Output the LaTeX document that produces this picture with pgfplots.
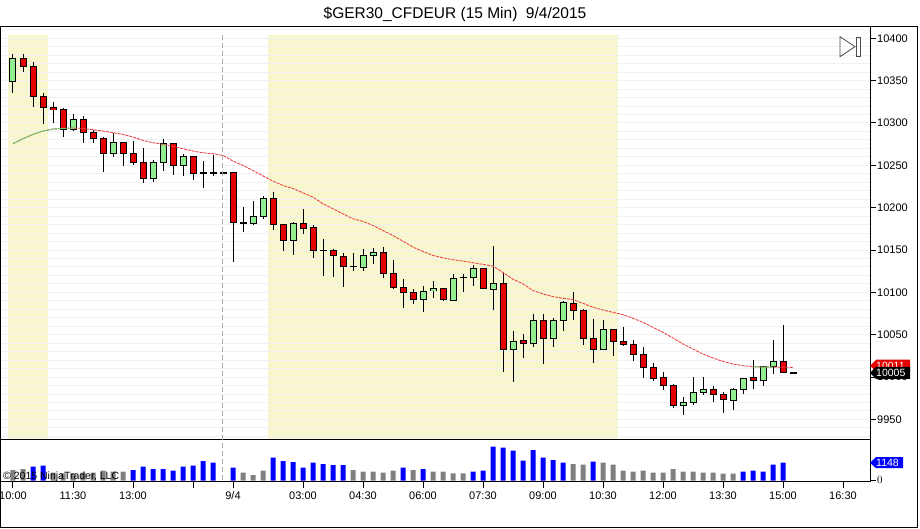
\documentclass[border=0pt]{standalone}
\usepackage{fontspec}
\setmainfont{Liberation Sans}
\usepackage{pgfplots}
\pgfplotsset{compat=1.18}
\usepackage{pgfplotstable}

\definecolor{shadeY}{RGB}{248,246,204}
\definecolor{upG}{RGB}{144,238,144}
\definecolor{dnR}{RGB}{228,0,0}
\definecolor{gridC}{RGB}{241,241,241}
\definecolor{maR}{RGB}{235,70,70}
\definecolor{maG}{RGB}{110,200,110}
\definecolor{volB}{RGB}{0,0,255}
\definecolor{volG}{RGB}{128,128,128}
\definecolor{sepC}{RGB}{170,170,170}

\pgfplotstableread{
i o h l c
0 10349.5 10382 10336 10376
1 10376 10381 10360 10367
2 10367 10372 10319 10331
3 10331 10336 10299 10318
4 10318 10325 10300 10316
5 10316 10318 10284 10292
6 10292 10310 10290 10304
7 10304 10308 10276 10288.5
8 10288.5 10292 10277 10282
9 10282 10283 10242 10264
10 10264 10288 10260 10277
11 10277 10277.5 10249 10264
12 10264 10279 10251 10253
13 10253 10271 10229 10234
14 10234 10256 10230 10253
15 10253 10281 10243 10275.5
16 10275.5 10277 10239 10249.5
17 10249.5 10263 10237 10260
18 10260 10261 10233 10241
19 10241 10255 10223 10241
20 10241 10262.5 10237 10241
21 10241 10241 10241 10241
22 10241 10241 10136 10182
23 10182 10201 10171 10182
24 10181 10208.5 10180 10190
25 10190 10214 10187 10210.5
26 10210.5 10218 10174 10180
27 10180 10181 10149 10161
28 10161 10183 10144 10181
29 10181 10198 10169 10176
30 10176 10179 10140 10150
31 10150 10163 10120 10150
32 10150 10151 10118 10143
33 10143 10147 10106 10131
34 10131 10147 10125 10131
35 10130 10151 10125 10144
36 10144 10152.5 10134 10147
37 10147 10154 10117 10122
38 10122 10138 10104 10106
39 10106 10116 10082 10100
40 10100 10104 10086 10092
41 10092 10108 10076.5 10101
42 10102 10113 10093.5 10104
43 10104 10105 10090 10091
44 10091 10122 10091 10117
45 10118 10122 10101 10118
46 10118 10132.5 10108 10128
47 10128 10129 10104 10104
48 10104 10155 10079 10111
49 10111 10124 10006 10033
50 10033 10055 9994 10042.5
51 10043 10051 10022 10040
52 10040 10074.5 10036 10067
53 10067 10074 10015 10045
54 10045 10070 10035 10067
55 10067 10090 10054 10087.5
56 10087.5 10101 10067 10078.5
57 10078.5 10080 10038 10046
58 10046 10069 10017 10033
59 10033 10067 10033 10056
60 10056 10056 10025 10042
61 10042 10059 10037 10038
62 10039 10044 10019 10027
63 10027 10036 9999 10011
64 10011 10017 9996 9998
65 9999 10006 9985 9990.5
66 9990.5 9992 9964 9967
67 9967 9977 9955 9970
68 9970 10000 9967 9982
69 9982 10000 9979.5 9985
70 9985 9990 9971 9980
71 9980 9983 9958 9973
72 9973 9987 9961 9986
73 9986 9999 9979.5 9998
74 9999 10020 9986 9996
75 9996 10013 9989 10013
76 10013 10044 10004 10019
77 10019 10061 10005 10005.5
78 10005 10005 10005 10005
}\candles

\pgfplotstableread{
i m
0 10275.5
1 10281.4
2 10286.5
3 10290.5
4 10292.8
5 10293.6
6 10294
7 10293.6
8 10292
9 10290.5
10 10288.5
11 10286.5
12 10283.4
13 10279.4
14 10276.7
15 10274.7
16 10272.3
17 10269.6
18 10266.8
19 10264.8
20 10263.7
21 10261.7
22 10255
23 10249.8
24 10243.9
25 10237.5
26 10231.3
27 10226.2
28 10222.5
29 10217.5
30 10212.4
31 10204.6
32 10198.7
33 10192.8
34 10186.9
35 10183.7
36 10179
37 10173
38 10167.1
39 10160.4
40 10153.4
41 10148.3
42 10143.6
43 10140.8
44 10138.5
45 10136.9
46 10135
47 10133
48 10131
49 10123.5
50 10115.5
51 10110.1
52 10102.1
53 10098.2
54 10095
55 10093
56 10091.4
57 10087.1
58 10082.4
59 10079.2
60 10076.4
61 10073.7
62 10069.4
63 10064.6
64 10058.7
65 10052.8
66 10046.1
67 10039
68 10033.1
69 10027.2
70 10022.5
71 10018.5
72 10015.4
73 10013.4
74 10012.2
75 10011.8
76 10011.8
77 10011.8
78 10011.4
}\mavg

\pgfplotstableread{
i m
0 10275.5
1 10281.4
2 10286.5
3 10290.5
4 10292.8
5 10293.6
6 10294
}\mavgupA

\pgfplotstableread{
i m
74 10012.2
75 10011.8
76 10011.8
}\mavgupB

\pgfplotstableread{
i v
2 893
3 957
12 681
13 893
14 745
15 745
16 638
17 893
18 957
19 1255
20 1148
22 830
26 1468
27 1255
28 1191
29 830
30 1148
31 1064
32 1000
33 1000
39 830
41 745
46 574
47 638
48 2170
49 2106
50 1915
51 1276
52 1957
53 1468
54 1319
55 1148
58 1213
73 574
74 638
75 574
76 1021
77 1148
}\volblue

\pgfplotstableread{
i v
0 681
1 745
4 511
5 468
6 468
7 511
8 511
9 638
10 574
11 574
23 511
24 362
25 638
34 681
35 574
36 574
37 511
38 638
40 681
42 574
43 574
44 468
45 468
56 1064
57 1021
59 1148
60 1021
61 638
62 574
63 638
64 511
65 511
66 745
67 574
68 574
69 511
70 511
71 447
72 447
}\volgray

\newcommand{\tickfont}{\fontsize{11}{13}\selectfont}

\begin{document}
\begin{tikzpicture}
\fill[white] (0pt,0pt) rectangle (920pt,529pt);

% ---------------- price panel ----------------
\begin{axis}[
  at={(1pt,89pt)}, anchor=south west, scale only axis,
  width=869pt, height=413pt,
  xmin=-1.2, xmax=85.7, ymin=9925.7, ymax=10413.3,
  axis x line=none,
  axis y line*=right,
  axis line style={line width=1pt, black},
  ytick={9950,10000,...,10400},
  scaled y ticks=false,
  tick align=outside,
  major tick length=6pt,
  tick style={black, line width=1pt},
  yticklabel style={font=\tickfont, /pgf/number format/1000 sep={},
    /pgf/number format/assume math mode=true, inner sep=1pt},
  clip=false,
]
\fill[shadeY] (axis cs:-0.5,9925.7) rectangle (axis cs:3.5,10403.9);
\fill[shadeY] (axis cs:25.5,9925.7) rectangle (axis cs:60.5,10403.9);
\pgfplotsinvokeforeach{9930,9940,...,10410}{
  \draw[gridC, line width=1pt] (axis cs:-1.2,#1) -- (axis cs:85.7,#1);
}

% wicks
\addplot[draw=none, mark=none, forget plot,
  error bars/.cd, y dir=both, y explicit, error mark=none,
  error bar style={draw=black, line width=1pt, solid}]
  table[x=i, y expr={(\thisrow{h}+\thisrow{l})/2},
        y error expr={(\thisrow{h}-\thisrow{l})/2}] {\candles};
% body outlines
\addplot[draw=none, mark=none, forget plot,
  error bars/.cd, y dir=both, y explicit, error mark=none,
  error bar style={draw=black, line width=7pt, solid}]
  table[x=i, y expr={(\thisrow{o}+\thisrow{c})/2},
        y error expr={abs(\thisrow{c}-\thisrow{o})/2+0.59}] {\candles};
% up bodies
\addplot[draw=none, mark=none, forget plot,
  error bars/.cd, y dir=both, y explicit, error mark=none,
  error bar style={draw=upG, line width=5pt, solid}]
  table[x=i, y expr={(\thisrow{o}+\thisrow{c})/2},
        y error expr={max((\thisrow{c}-\thisrow{o})/2-0.59,0)}] {\candles};
% down bodies
\addplot[draw=none, mark=none, forget plot,
  error bars/.cd, y dir=both, y explicit, error mark=none,
  error bar style={draw=dnR, line width=5pt, solid}]
  table[x=i, y expr={(\thisrow{o}+\thisrow{c})/2},
        y error expr={max((\thisrow{o}-\thisrow{c})/2-0.59,0)}] {\candles};

% moving average
\addplot[maR, line width=0.9pt, dash pattern=on 3pt off 1pt, mark=none] table[x=i, y=m] {\mavg};
\addplot[maG, line width=0.9pt, mark=none] table[x=i, y=m] {\mavgupA};
\addplot[maG, line width=0.9pt, mark=none] table[x=i, y=m] {\mavgupB};

% last-value markers
\fill[dnR] ([yshift=2pt]axis cs:85.7,10011) -- ++(6pt,6pt) -- ++(34pt,0pt) -- ++(0pt,-12pt) -- ++(-34pt,0pt) -- cycle;
\node[white, anchor=west, inner sep=0pt, font=\fontsize{10.5}{12}\selectfont] at ([xshift=6pt,yshift=2pt]axis cs:85.7,10011) {10011};
\fill[black] (axis cs:85.7,10005) -- ++(6pt,6pt) -- ++(34pt,0pt) -- ++(0pt,-12pt) -- ++(-34pt,0pt) -- cycle;
\node[white, anchor=west, inner sep=0pt, font=\fontsize{10.5}{12}\selectfont] at ([xshift=6pt]axis cs:85.7,10005) {10005};
\end{axis}

% ---------------- volume panel ----------------
\begin{axis}[
  at={(1pt,47pt)}, anchor=south west, scale only axis,
  width=869pt, height=42pt,
  xmin=-1.2, xmax=85.7, ymin=-83, ymax=2597,
  axis x line*=bottom, axis y line*=right,
  axis line style={line width=1pt, black},
  xtick={0,6,12,18,22,29,35,41,47,53,59,65,71,77,83},
  xticklabels={10:00,11:30,13:00,,9/4,03:00,04:30,06:00,07:30,09:00,10:30,12:00,13:30,15:00,16:30},
  typeset ticklabels with strut,
  ytick={0},
  tick align=outside, major tick length=6pt,
  tick style={black, line width=1pt},
  ticklabel style={font=\tickfont, inner sep=1pt},
  xticklabel style={yshift=-1.5pt},
  ybar, bar width=5pt, bar shift=0pt,
  clip=false,
]
\addplot[fill=volB, draw=none] table[x=i, y=v] {\volblue};
\addplot[fill=volG, draw=none] table[x=i, y=v] {\volgray};
\fill[volB] (axis cs:85.7,1148) -- ++(6pt,5.5pt) -- ++(27pt,0pt) -- ++(0pt,-11pt) -- ++(-27pt,0pt) -- cycle;
\node[white, anchor=west, inner sep=0pt, font=\fontsize{10.5}{12}\selectfont] at ([xshift=6pt]axis cs:85.7,1148) {1148};
\end{axis}

% frame, separator, session break
\draw[line width=1pt] (0.5pt,1pt) rectangle (917pt,502pt);
\draw[line width=1pt] (0.5pt,89pt) -- (870pt,89pt);
\draw[sepC, line width=1.5pt, dash pattern=on 5pt off 3pt] (222.7pt,494pt) -- (222.7pt,47pt);

% title
\node[anchor=base, inner sep=0pt, font=\fontsize{15.5}{18}\selectfont] at (455pt,510.7pt) {\$GER30\_CFDEUR (15 Min)\hspace{0.55em}9/4/2015};

% copyright
\node[anchor=west, inner sep=0pt, font=\fontsize{10.5}{12}\selectfont] at (3pt,52pt) {© 2015 NinjaTrader, LLC};

% scroll-to-end icon
\draw[black!70, line width=0.8pt] (840pt,492.3pt) -- (840pt,472.3pt) -- (855pt,482.3pt) -- cycle;
\draw[black!70, line width=0.8pt] (856.7pt,492pt) rectangle (860.7pt,472.3pt);

\pgfresetboundingbox
\useasboundingbox (0pt,0pt) rectangle (920pt,529pt);
\end{tikzpicture}
\end{document}
